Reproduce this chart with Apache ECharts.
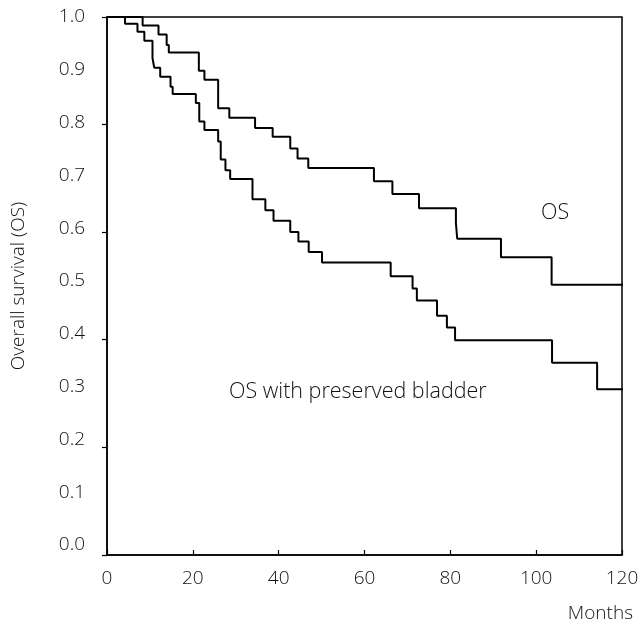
<!DOCTYPE html>
<html>
<head>
<meta charset="utf-8">
<script src="https://cdn.jsdelivr.net/npm/echarts@6/dist/echarts.min.js"></script>
<style>
  html, body { margin: 0; padding: 0; background: #fff; }
  #chart { width: 638px; height: 627px; }
</style>
</head>
<body>
<div id="chart"></div>
<script>
// Kaplan-Meier step points: [month, survival after the event]
const osSteps = [
  [0, 1.0], [8.3, 0.984], [12.0, 0.967], [13.9, 0.947], [14.4, 0.933],
  [21.4, 0.898], [22.7, 0.881], [25.9, 0.827], [28.5, 0.809], [34.5, 0.790],
  [38.6, 0.773], [42.7, 0.751], [44.4, 0.732], [46.9, 0.714], [62.2, 0.689],
  [66.5, 0.665], [72.7, 0.638], [81.3, 0.610], [81.6, 0.580], [91.8, 0.545],
  [103.6, 0.493], [121, 0.493]
];
const bladderSteps = [
  [0, 1.0], [4.2, 0.987], [7.1, 0.972], [8.7, 0.955], [10.6, 0.922],
  [11.0, 0.904], [12.4, 0.887], [14.8, 0.868], [15.3, 0.854], [20.7, 0.837],
  [21.5, 0.802], [22.7, 0.786], [25.9, 0.764], [26.5, 0.730], [27.6, 0.710],
  [28.7, 0.693], [33.9, 0.655], [36.9, 0.634], [38.8, 0.614], [42.7, 0.593],
  [44.6, 0.575], [47.0, 0.555], [50.1, 0.535], [66.1, 0.509], [71.2, 0.486],
  [72.2, 0.463], [76.9, 0.434], [79.2, 0.412], [81.1, 0.388], [103.7, 0.345],
  [114.2, 0.295], [121, 0.295]
];

const xTicks = [0, 20, 40, 60, 80, 100, 120];
const yLabels = [0, 0.1, 0.2, 0.3, 0.4, 0.5, 0.6, 0.7, 0.8, 0.9, 1.0];
const yTickMarks = [1.0, 0.796, 0.592, 0.389, 0.185, -0.0189];

const seriesNames = ['OS', 'OS with preserved bladder'];

const textColor = '#111';
const fontFamily = '"Open Sans", "Liberation Sans", Arial, sans-serif';
const textStyle = { color: textColor, fontSize: 19, fontWeight: 300, fontFamily: fontFamily };

const chart = echarts.init(document.getElementById('chart'), null, { renderer: 'canvas' });

chart.setOption({
  animation: false,
  backgroundColor: '#fff',
  grid: {
    left: 107, right: 16, top: 17, bottom: 72,
    show: true, borderColor: '#000', borderWidth: 1.5,
    containLabel: false,
    outerBoundsMode: 'none'
  },
  xAxis: {
    type: 'value',
    min: 0, max: 120, interval: 20,
    axisLine: { show: true, onZero: false, lineStyle: { color: '#000', width: 1.5 } },
    axisTick: { show: true, inside: true, length: 5, customValues: xTicks, lineStyle: { color: '#000', width: 1.2 } },
    axisLabel: Object.assign({ customValues: xTicks, margin: 14 }, textStyle),
    splitLine: { show: false }
  },
  yAxis: {
    type: 'value',
    min: -0.0189, max: 1.0,
    name: 'Overall survival (OS)',
    nameLocation: 'middle',
    nameRotate: 90,
    nameGap: 79,
    nameTextStyle: textStyle,
    axisLine: { show: true, onZero: false, lineStyle: { color: '#000', width: 1.5 } },
    axisTick: { show: true, inside: false, length: 5, customValues: yTickMarks, lineStyle: { color: '#000', width: 1.2 } },
    axisLabel: Object.assign({ customValues: yLabels, margin: 22, formatter: v => v.toFixed(1) }, textStyle),
    splitLine: { show: false }
  },
  series: [
    {
      name: seriesNames[0],
      type: 'line', step: 'end', data: osSteps,
      showSymbol: false, clip: false,
      lineStyle: { color: '#000', width: 2 }
    },
    {
      name: seriesNames[1],
      type: 'line', step: 'end', data: bladderSteps,
      showSymbol: false, clip: false,
      lineStyle: { color: '#000', width: 2 }
    }
  ],
  graphic: [
    {
      type: 'text', left: 541, top: 202,
      style: { text: seriesNames[0], fill: textColor, fontSize: 21.5, fontWeight: 300, fontFamily: fontFamily }
    },
    {
      type: 'text', left: 229, top: 381,
      style: { text: seriesNames[1], fill: textColor, fontSize: 21.5, fontWeight: 300, fontFamily: fontFamily }
    },
    {
      type: 'text', right: 5, top: 604,
      style: { text: 'Months', fill: textColor, fontSize: 19, fontWeight: 300, fontFamily: fontFamily }
    }
  ]
});
</script>
</body>
</html>
